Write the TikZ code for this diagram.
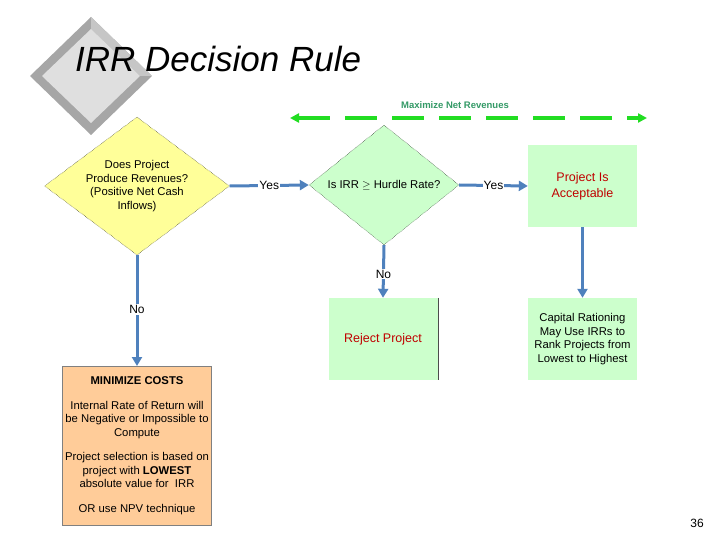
\documentclass[tikz,border=0pt]{standalone}
\usepackage{fontspec}
\setmainfont{Liberation Sans}
\usetikzlibrary{shapes.geometric,arrows.meta}
\definecolor{flowblue}{HTML}{4F81BD}
\definecolor{boxgreen}{HTML}{CCFFCC}
\definecolor{boxorange}{HTML}{FFCC99}
\definecolor{boxyellow}{HTML}{FFFF99}
\definecolor{dashgreen}{HTML}{22DD22}
\definecolor{txtgreen}{HTML}{339966}
\definecolor{txtred}{HTML}{C00000}
\tikzset{
  decide/.style={diamond, draw=black, densely dotted, thin, inner sep=0pt},
  qtext/.style={align=center, inner sep=0pt, font=\fontsize{11.3}{13.5}\selectfont},
  result/.style={rectangle, fill=boxgreen, minimum width=109pt, minimum height=82pt, align=center, inner sep=0pt, font=\fontsize{11.3}{13.5}\selectfont},
  flow/.style={-{Triangle[length=9pt,width=10pt]}, draw=flowblue, line width=3pt},
  lbl/.style={fill=white, inner sep=1pt, font=\fontsize{12}{14}\selectfont}
}
\begin{document}
\begin{tikzpicture}[x=1pt,y=-1pt]
	% page frame
	\useasboundingbox (0,0) rectangle (720,540);
	% bevelled diamond behind the title
	\fill[gray!70] (91,17) -- (152,76) -- (91,135) -- (30,76) -- cycle;
	\fill[gray!45] (91,17) -- (152,76) -- (140,76) -- (91,29) -- cycle;
	\fill[gray!25] (91,29) -- (140,76) -- (91,123) -- (42,76) -- cycle;
	\node[anchor=base west, font=\itshape\fontsize{35}{40}\selectfont, inner sep=0pt] (title) at (75,72) {IRR Decision Rule};
	% maximize revenues band
	\node[font=\bfseries\fontsize{9.5}{11}\selectfont, text=txtgreen] (maxrev) at (455,105) {Maximize Net Revenues};
	\coordinate (bandL) at (290,118);
	\coordinate (bandR) at (647,118);
	\draw[{Triangle[length=9pt,width=9pt]}-{Triangle[length=9pt,width=9pt]}, dashgreen, line width=3.5pt, dash pattern=on 32pt off 15pt] (bandL) -- (bandR);
	% decisions
	\node[decide, fill=boxyellow, minimum width=185pt, minimum height=138pt] (revq) at (137,186) {};
	\node[qtext] (revqt) at (revq) {Does Project\\Produce Revenues?\\(Positive Net Cash\\Inflows)};
	\node[decide, fill=boxgreen, minimum width=150pt, minimum height=120pt] (irrq) at (384,185) {};
	\node[qtext] (irrqt) at (irrq) {Is IRR $\geq$ Hurdle Rate?};
	% outcomes
	\node[result, text=txtred, font=\fontsize{12.5}{16}\selectfont] (accept) at (582.5,186) {Project Is\\Acceptable};
	\node[result, text=txtred, font=\fontsize{12.5}{16}\selectfont] (reject) at (383,339) {Reject Project};
	\draw[black!70, thin] (reject.north east) -- (reject.south east);
	\node[result] (ration) at (582.5,339) {Capital Rationing\\May Use IRRs to\\Rank Projects from\\Lowest to Highest};
	\node[rectangle, draw=gray, fill=boxorange, minimum width=149pt, minimum height=159pt, inner sep=0pt, align=center, anchor=north, font=\fontsize{11.3}{13.5}\selectfont] (mincost) at (137,366)
	  {\textbf{MINIMIZE COSTS}\\[11pt]Internal Rate of Return will\\be Negative or Impossible to\\Compute\\[11pt]Project selection is based on\\project with \textbf{LOWEST}\\absolute value for\ \ IRR\\[11pt]OR use NPV technique};
	% connectors
	\draw[flow] (revq.east) -- node[lbl] {Yes} (irrq.west);
	\draw[flow] (irrq.east) -- node[lbl] {Yes} (accept.west);
	\draw[flow] (irrq.south) -- node[lbl, pos=0.55] {No} (reject.north);
	\draw[flow] (revq.south) -- node[lbl, pos=0.49] {No} (mincost.north);
	\draw[flow] (accept.south) -- (ration.north);
	% slide number
	\node[font=\fontsize{12}{14}\selectfont] (slide) at (697,523) {36};
\end{tikzpicture}
\end{document}
